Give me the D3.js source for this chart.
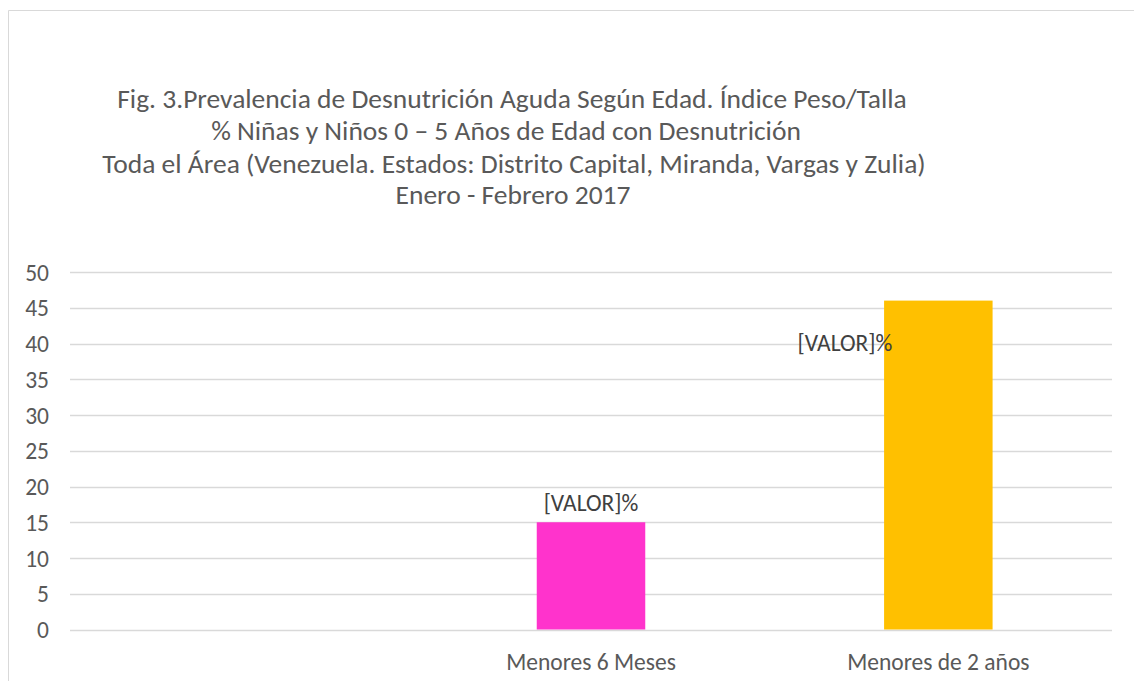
<!DOCTYPE html>
<html><head><meta charset="utf-8">
<script src="https://cdn.jsdelivr.net/npm/d3@7"></script>
<style>html,body{margin:0;padding:0;background:#fff;}svg{display:block;}</style>
</head><body>
<svg id="c" width="1134" height="681"></svg>
<script>
const categories = ["", "Menores 6 Meses", "Menores de 2 años"];
const values = [null, 15, 46];
const colors = ["#ffffff", "#ff33cc", "#ffc000"];
const labels = ["", "[VALOR]%", "[VALOR]%"];
const yTicks = [0,5,10,15,20,25,30,35,40,45,50];
const titleLines = [
  "Fig. 3.Prevalencia de Desnutrición Aguda Según Edad. Índice Peso/Talla",
  "% Niñas y Niños 0 – 5 Años de Edad con Desnutrición",
  "Toda el Área (Venezuela. Estados: Distrito Capital, Miranda, Vargas y Zulia)",
  "Enero - Febrero 2017"
];

const font = "Carlito, Calibri, 'Liberation Sans Narrow', 'Open Sans', sans-serif";
const svg = d3.select("#c");
svg.append("line").attr("x1",8.5).attr("x2",1134).attr("y1",10.5).attr("y2",10.5).attr("stroke","#d9d9d9");
svg.append("line").attr("x1",8.5).attr("x2",8.5).attr("y1",10.5).attr("y2",681).attr("stroke","#d9d9d9");

const pL = 70, pR = 1112, pT = 272, pB = 629.5;
const x = d3.scaleBand().domain(categories.map((d,i)=>i)).range([pL,pR]).paddingInner(0.6875).paddingOuter(0.34375);
const y = d3.scaleLinear().domain([0,50]).range([pB, pT]);

svg.append("g").selectAll("line").data(yTicks).join("line")
  .attr("x1",pL).attr("x2",pR)
  .attr("y1",d=>Math.round(y(d))+0.5).attr("y2",d=>Math.round(y(d))+0.5)
  .attr("stroke","#d9d9d9").attr("stroke-width",1.3);

const lblSize = 23.5;
const yAxis = d3.axisLeft(y).tickValues(yTicks).tickSize(0).tickPadding(0);
const yg = svg.append("g").attr("transform",`translate(49,0)`).call(yAxis);
yg.select(".domain").remove();
yg.selectAll("text").attr("font-family",font).attr("font-size",lblSize).attr("fill","#595959").attr("dy","0.35em");

const xAxis = d3.axisBottom(x).tickFormat(i=>categories[i]).tickSize(0).tickPadding(0);
const xg = svg.append("g").attr("transform",`translate(0,${pB})`).call(xAxis);
xg.select(".domain").remove();
xg.selectAll("text").attr("font-family",font).attr("font-size",lblSize).attr("fill","#595959").attr("y",40).attr("dy",null);

const bw = 108.5;
svg.append("g").selectAll("rect").data(values.map((v,i)=>({v,i})).filter(d=>d.v!=null)).join("rect")
  .attr("x",d=>x(d.i)+x.bandwidth()/2-bw/2).attr("width",bw)
  .attr("y",d=>y(d.v)).attr("height",d=>y(0)-y(d.v))
  .attr("fill",d=>colors[d.i]);

const lab = svg.append("g").attr("font-family",font).attr("font-size",lblSize).attr("fill","#404040");
lab.append("text").attr("x",x(1)+x.bandwidth()/2).attr("y",y(values[1])-11)
  .attr("text-anchor","middle").text(labels[1]);
lab.append("text").attr("x",x(2)+x.bandwidth()/2-46).attr("y",y(values[2])+50)
  .attr("text-anchor","end").text(labels[2]);

const tg = svg.append("g").attr("font-family",font).attr("font-size",27.5).attr("fill","#595959").attr("text-anchor","middle");
const tCenters = [512,506,514,513];
const tY = [107.5,139.5,172.5,203.5];
titleLines.forEach((t,i)=>tg.append("text").attr("x",tCenters[i]).attr("y",tY[i]).text(t));
</script>
</body></html>
